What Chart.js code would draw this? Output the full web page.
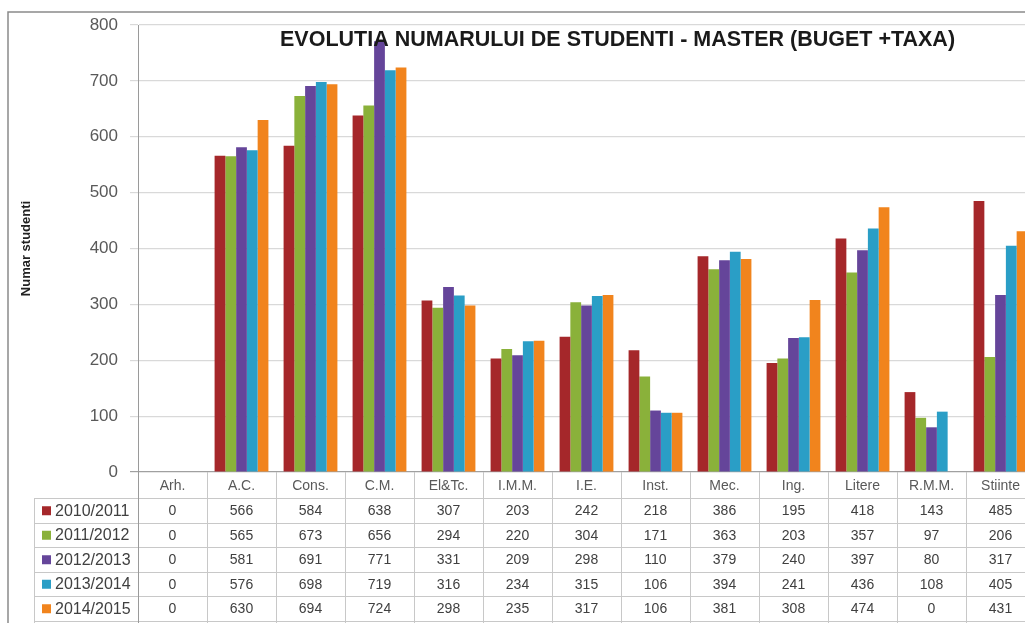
<!DOCTYPE html>
<html>
<head>
<meta charset="utf-8">
<script src="https://cdn.jsdelivr.net/npm/chart.js@4.4.1/dist/chart.umd.min.js"></script>
<style>
  html, body { margin: 0; padding: 0; background: #fff; overflow: hidden; }
  #wrap { width: 1025px; height: 623px; overflow: hidden; position: relative; }
  #grafic { position: absolute; left: 0; top: 0; }
</style>
</head>
<body>
<div id="wrap"><canvas id="grafic" width="1040" height="623"></canvas></div>
<script>
// ---------------- DATE ----------------
const facultati = ['Arh.', 'A.C.', 'Cons.', 'C.M.', 'El&Tc.', 'I.M.M.', 'I.E.', 'Inst.', 'Mec.', 'Ing.', 'Litere', 'R.M.M.', 'Stiinte'];
const aniUniv = ['2010/2011', '2011/2012', '2012/2013', '2013/2014', '2014/2015'];
const an2010 = [0, 566, 584, 638, 307, 203, 242, 218, 386, 195, 418, 143, 485];
const an2011 = [0, 565, 673, 656, 294, 220, 304, 171, 363, 203, 357, 97, 206];
const an2012 = [0, 581, 691, 771, 331, 209, 298, 110, 379, 240, 397, 80, 317];
const an2013 = [0, 576, 698, 719, 316, 234, 315, 106, 394, 241, 436, 108, 405];
const an2014 = [0, 630, 694, 724, 298, 235, 317, 106, 381, 308, 474, 0, 431];
const yTicks = [0, 100, 200, 300, 400, 500, 600, 700, 800];

const culori = ['#a5272a', '#8ab13a', '#65459a', '#2a9ec6', '#f1841d'];
const valori = [an2010, an2011, an2012, an2013, an2014];

const titlu = 'EVOLUTIA NUMARULUI DE STUDENTI - MASTER (BUGET +TAXA)';

//tabel de date sub grafic + rama + titlu
const tabelPlugin = {
    id: 'tabel',
    afterDraw(chart) {
        const ctx = chart.ctx;
        const x = chart.scales.x;
        const area = chart.chartArea;
        const latime = x.getPixelForValue(1) - x.getPixelForValue(0);
        const rowH = 24.5;
        const yHead = area.bottom;
        const yRows = yHead + 26;
        const legLeft = 34;
        const bottom = chart.height;

        ctx.save();

        //rama
        ctx.strokeStyle = '#8a8a8a';
        ctx.lineWidth = 1.5;
        ctx.beginPath();
        ctx.moveTo(8, bottom);
        ctx.lineTo(8, 12);
        ctx.lineTo(chart.width, 12);
        ctx.stroke();

        //titlu
        let fs = 22;
        ctx.font = 'bold ' + fs + 'px "Liberation Sans"';
        while (ctx.measureText(titlu).width > 680 && fs > 10) {
            fs -= 0.5;
            ctx.font = 'bold ' + fs + 'px "Liberation Sans"';
        }
        ctx.fillStyle = '#1a1a1a';
        ctx.textAlign = 'left';
        ctx.textBaseline = 'middle';
        ctx.fillText(titlu, 280, 40);

        //linii tabel
        ctx.strokeStyle = '#c8c8c8';
        ctx.lineWidth = 1;
        ctx.beginPath();
        for (let r = 0; r <= aniUniv.length; r++) {
            const yy = Math.round(yRows + r * rowH) + 0.5;
            ctx.moveTo(legLeft, yy);
            ctx.lineTo(chart.width, yy);
        }
        for (let i = 1; i <= facultati.length; i++) {
            const xx = Math.round(x.getPixelForValue(i) - latime / 2) + 0.5;
            ctx.moveTo(xx, yHead);
            ctx.lineTo(xx, bottom);
        }
        ctx.moveTo(legLeft + 0.5, yRows);
        ctx.lineTo(legLeft + 0.5, bottom);
        ctx.stroke();

        //axa verticala prelungita
        ctx.strokeStyle = '#9a9a9a';
        ctx.beginPath();
        ctx.moveTo(Math.round(area.left) + 0.5, yHead);
        ctx.lineTo(Math.round(area.left) + 0.5, bottom);
        ctx.stroke();

        //etichete categorii
        ctx.fillStyle = '#595959';
        ctx.textAlign = 'center';
        ctx.font = '14px "Liberation Sans"';
        facultati.forEach((f, i) => {
            ctx.fillText(f, x.getPixelForValue(i), yHead + 14);
        });

        //randuri
        aniUniv.forEach((an, r) => {
            const yc = yRows + r * rowH + rowH / 2 + 1;
            ctx.fillStyle = culori[r];
            ctx.fillRect(42, yc - 5, 9, 9);
            ctx.fillStyle = '#404040';
            ctx.textAlign = 'left';
            ctx.font = '16px "Liberation Sans"';
            ctx.fillText(an, 55, yc);
            ctx.textAlign = 'center';
            ctx.font = '14px "Liberation Sans"';
            valori[r].forEach((v, i) => {
                ctx.fillText(String(v), x.getPixelForValue(i), yc);
            });
        });

        ctx.restore();
    }
};

const ctx = document.getElementById('grafic');

new Chart(ctx, {
    type: 'bar',
    data: {
        labels: facultati,
        datasets: aniUniv.map((an, k) => ({
            label: an,
            data: valori[k],
            backgroundColor: culori[k],
            borderWidth: 0,
            categoryPercentage: 0.78,
            barPercentage: 1.0
        }))
    },
    options: {
        responsive: false,
        animation: false,
        layout: { padding: { top: 25, left: 8, right: 5, bottom: 151 } },
        plugins: {
            legend: { display: false },
            title: { display: false },
            tooltip: { enabled: false }
        },
        scales: {
            x: { display: false },
            y: {
                min: 0,
                max: 800,
                afterBuildTicks: (scale) => { scale.ticks = yTicks.map(v => ({ value: v })); },
                afterFit: (scale) => { scale.width = 130; },
                ticks: {
                    padding: 12,
                    color: '#595959',
                    font: { family: '"Liberation Sans"', size: 17 }
                },
                grid: {
                    color: (c) => c.index === 0 ? '#a0a0a0' : '#d9d9d9',
                    tickLength: 8,
                    lineWidth: 1.2
                },
                border: { display: true, color: '#9a9a9a' },
                title: {
                    display: true,
                    text: 'Numar studenti',
                    color: '#222',
                    padding: { top: 11, bottom: 0 },
                    font: { family: '"Liberation Sans"', size: 13, weight: 'bold' }
                }
            }
        }
    },
    plugins: [tabelPlugin]
});
</script>
</body>
</html>
